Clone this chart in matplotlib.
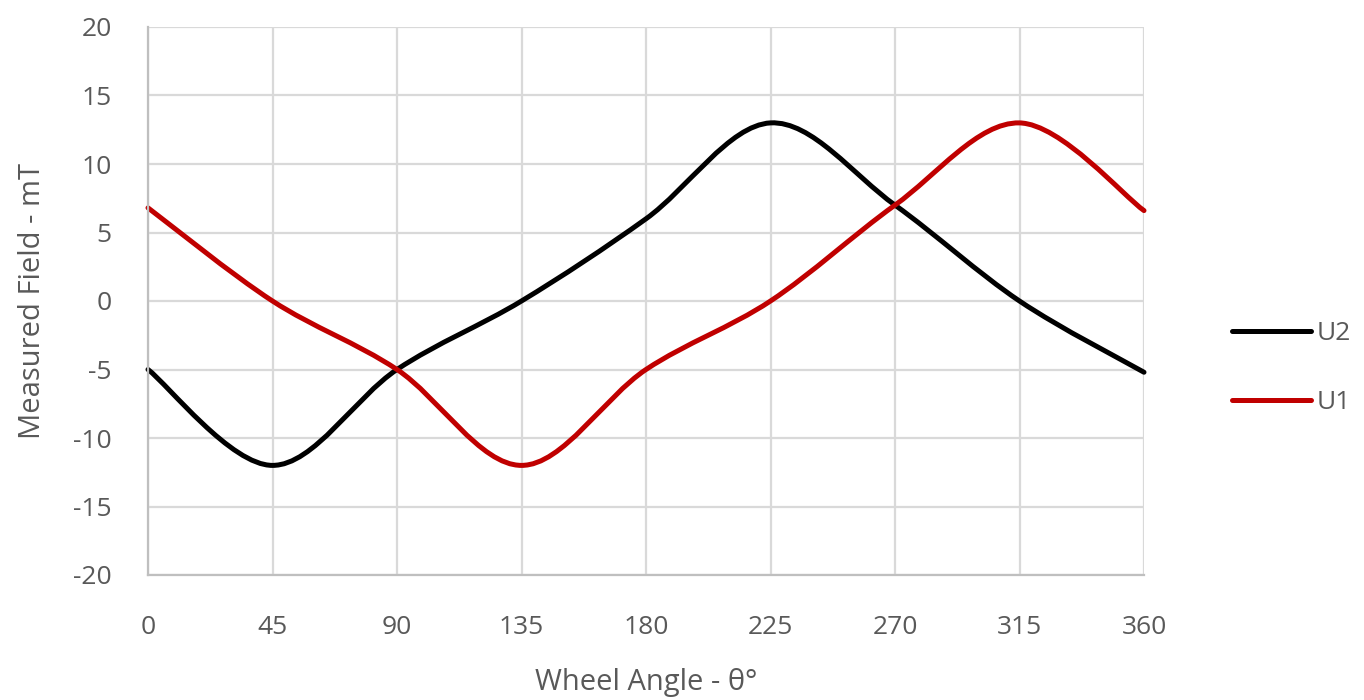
import numpy as np
import matplotlib
matplotlib.use("Agg")
import matplotlib.pyplot as plt
from matplotlib.path import Path
from matplotlib.patches import PathPatch
from matplotlib.lines import Line2D

angles = [0, 45, 90, 135, 180, 225, 270, 315, 360]
u2 = [-5, -12, -5, 0, 6, 13, 7, 0, -5.2]
u1 = [6.8, 0, -5, -12, -5, 0, 7, 13, 6.6]
x_ticks = [0, 45, 90, 135, 180, 225, 270, 315, 360]
y_ticks = [-20, -15, -10, -5, 0, 5, 10, 15, 20]

TXT = "#595959"
plt.rcParams['font.family'] = ['Open Sans', 'DejaVu Sans']
plt.rcParams['axes.unicode_minus'] = False

def smooth_path(xs, ys):
    # Excel-style smoothed line: cubic Bezier segments through data points
    p = np.column_stack([xs, ys]).astype(float)
    n = len(p)
    verts = [p[0]]
    codes = [Path.MOVETO]
    for i in range(n - 1):
        p0 = p[i - 1] if i > 0 else p[i]
        p1 = p[i]
        p2 = p[i + 1]
        p3 = p[i + 2] if i + 2 < n else p[i + 1]
        c1 = p1 + (p2 - p0) / 6.0
        c2 = p2 - (p3 - p1) / 6.0
        verts += [c1, c2, p2]
        codes += [Path.CURVE4] * 3
    return Path(verts, codes)

fig = plt.figure(figsize=(13.64, 7.0), dpi=100)
ax = fig.add_axes([148/1364, 1 - 575/700, (1144-148)/1364, (575-27)/700])
ax.set_xlim(0, 360)
ax.set_ylim(-20, 20)
ax.set_xticks(x_ticks)
ax.set_yticks(y_ticks)
ax.grid(True, color="#d9d9d9", linewidth=1.6)
ax.set_axisbelow(True)
for s in ["top", "right"]:
    ax.spines[s].set_visible(False)
for s in ["left", "bottom"]:
    ax.spines[s].set_color("#bfbfbf")
    ax.spines[s].set_linewidth(1.6)
ax.tick_params(length=0, labelsize=19, labelcolor=TXT)
ax.tick_params(axis='x', pad=29)
ax.tick_params(axis='y', pad=26)

for ys, col in [(u2, "black"), (u1, "#c00000")]:
    patch = PathPatch(smooth_path(angles, ys), facecolor="none", edgecolor=col,
                      linewidth=3.6, capstyle="round", joinstyle="round", clip_on=False)
    ax.add_patch(patch)

ax.set_xlabel("Wheel Angle - θ°", fontsize=21, color=TXT, labelpad=20)
ax.set_ylabel("Measured Field - mT", fontsize=21, color=TXT, labelpad=19)

handles = [Line2D([], [], color="black", lw=3.6, solid_capstyle="round"),
           Line2D([], [], color="#c00000", lw=3.6, solid_capstyle="round")]
leg = fig.legend(handles, ["U2", "U1"], loc="center left",
                 bbox_to_anchor=(1208/1364, 1 - 368/700), frameon=False,
                 fontsize=19, labelcolor=TXT, handlelength=3.0, handletextpad=0.2,
                 labelspacing=1.65)

fig.savefig("out.png", dpi=100)
